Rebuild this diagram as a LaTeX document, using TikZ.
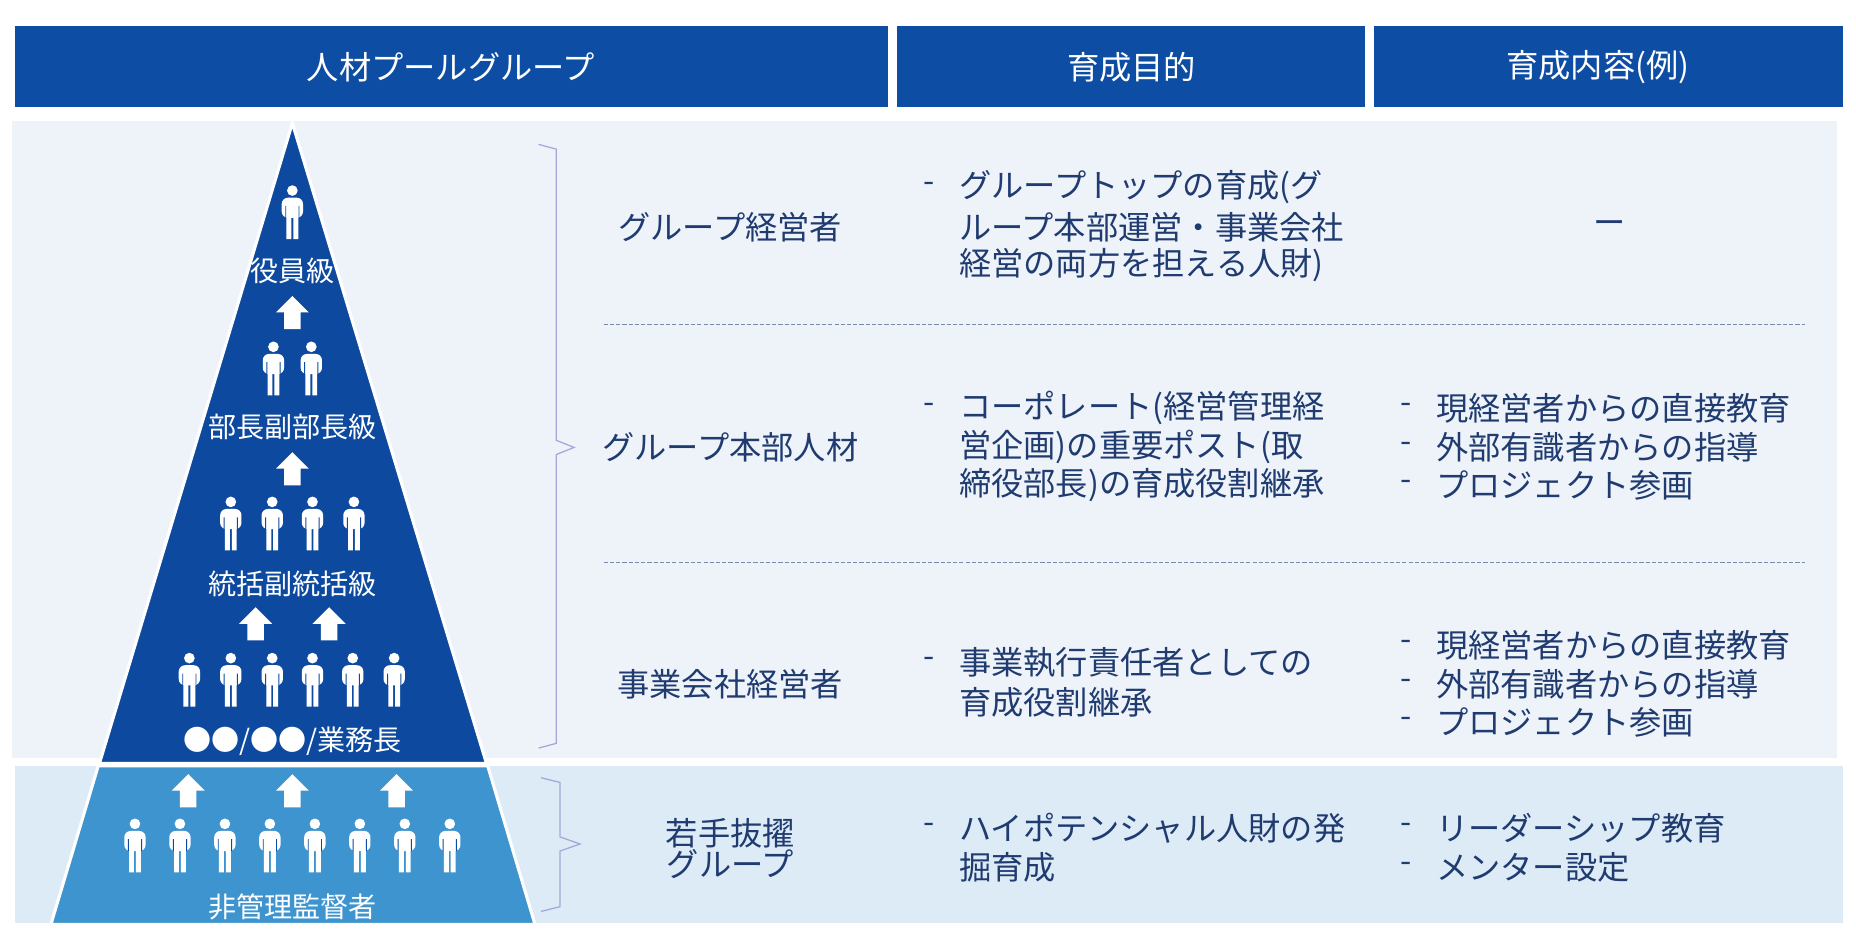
\documentclass[tikz,border=0pt]{standalone}
\usepackage{fontspec}
\setmainfont{Noto Sans CJK JP}
\begin{document}
\begin{tikzpicture}[x=0.02cm,y=-0.02cm,
  hdr/.style={fill=hdrblue,draw=none},
  htxt/.style={text=white,font=\fontsize{15.5pt}{18pt}\selectfont,inner sep=0},
  btxt/.style={text=txtblue,font=\fontsize{15.5pt}{18pt}\selectfont,inner sep=0},
  ptxt/.style={text=white,font=\fontsize{13.5pt}{16pt}\selectfont,inner sep=0},
  dline/.style={draw=txtblue!60,dashed,line width=0.4pt,dash pattern=on 2pt off 1pt},
  brace/.style={draw=gray!60!blue!50,line width=0.6pt},
  person/.pic={
    \fill[white] (0,-19) circle (4.5);
    \fill[white,rounded corners=3] (-9,-13) rectangle (9,4);
    \fill[txtpy] (-6,-6) rectangle (-5.2,4) (5.2,-6) rectangle (6,4);
    \fill[white] (-5,3) rectangle (-0.8,22) (0.8,3) rectangle (5,22);
  },
  uparrow/.pic={
    \fill[white] (-14,0) -- (0,-14) -- (14,0) -- (7,0) -- (7,14) -- (-7,14) -- (-7,0) -- cycle;
  }]
\definecolor{hdrblue}{HTML}{0E4DA4}
\definecolor{pyblue}{HTML}{0D4A9F}
\colorlet{txtpy}{pyblue}
\definecolor{lowblue}{HTML}{3E94CE}
\definecolor{panel}{HTML}{EEF3FA}
\definecolor{panellow}{HTML}{DDEBF6}
\definecolor{txtblue}{HTML}{1F3B70}
\useasboundingbox (0,0) rectangle (1568,794);
\fill[white] (0,0) rectangle (1568,794);
% headers
\fill[hdr] (13,22) rectangle (750,90);
\fill[hdr] (758,22) rectangle (1153,90);
\fill[hdr] (1161,22) rectangle (1557,90);
\node[htxt] (h1) at (381,57) {人材プールグループ};
\node[htxt] (h2) at (956,57) {育成目的};
\node[htxt] (h3) at (1350,57) {育成内容(例)};
% panels
\fill[panel] (10,102) rectangle (1552,640);
\fill[panellow] (13,647) rectangle (1557,780);
% pyramid
\filldraw[fill=pyblue,draw=white,line width=1.5pt] (247,104) -- (411,645) -- (84,645) -- cycle;
\filldraw[fill=lowblue,draw=white,line width=1.5pt] (83,647) -- (412,647) -- (452,781) -- (43,781) -- cycle;
% people
\pic at (247,180) {person};
\foreach \x in {231,263} \pic at (\x,312) {person};
\foreach \x in {195,230,264,299} \pic at (\x,443) {person};
\foreach \x in {160,195,230,264,298,333} \pic at (\x,575) {person};
\foreach \x in {114,152,190,228,266,304,342,380} \pic at (\x,715) {person};
% arrows
\pic at (247,264) {uparrow};
\pic at (247,396) {uparrow};
\pic at (216,527) {uparrow};
\pic at (278,527) {uparrow};
\pic at (159,668) {uparrow};
\pic at (247,668) {uparrow};
\pic at (335,668) {uparrow};
% pyramid labels
\node[ptxt] (l1) at (247,229) {役員級};
\node[ptxt] (l2) at (247,361) {部長副部長級};
\node[ptxt] (l3) at (247,493) {統括副統括級};
\node[ptxt] (l4) at (247,626) {●●/●●/業務長};
\node[ptxt] (l5) at (247,766) {非管理監督者};
% braces
\draw[brace] (455,122) -- (470,126) -- (470,372) -- (485,378) -- (470,384) -- (470,628) -- (455,632);
\draw[brace] (457,657) -- (473,661) -- (473,707) -- (490,713) -- (473,719) -- (473,766) -- (457,770);
% dashed separators
\draw[dline] (510,274) -- (1525,274);
\draw[dline] (510,475) -- (1525,475);
% col1
\node[btxt] (g1) at (617,192) {グループ経営者};
\node[btxt] (g2) at (617,378) {グループ本部人材};
\node[btxt] (g3) at (617,578) {事業会社経営者};
\node[btxt,align=center] (g4) at (617,717) {若手抜擢\\[-3pt]グループ};
% col2
\foreach \y in {158,345,560,700} \node[btxt] at (785,\y) {-};
\node[btxt,anchor=west] (p1a) at (810,158) {グループトップの育成(グ};
\node[btxt,anchor=west] (p1b) at (810,192) {ループ本部運営・事業会社};
\node[btxt,anchor=west] (p1c) at (810,224) {経営の両方を担える人財)};
\node[btxt,anchor=west] (p2a) at (810,345) {コーポレート(経営管理経};
\node[btxt,anchor=west] (p2b) at (810,378) {営企画)の重要ポスト(取};
\node[btxt,anchor=west] (p2c) at (810,410) {締役部長)の育成役割継承};
\node[btxt,anchor=west] (p3a) at (810,560) {事業執行責任者としての};
\node[btxt,anchor=west] (p3b) at (810,593) {育成役割継承};
\node[btxt,anchor=west] (p4a) at (810,700) {ハイポテンシャル人財の発};
\node[btxt,anchor=west] (p4b) at (810,733) {掘育成};
% col3
\node[btxt] (c0) at (1360,192) {ー};
\foreach \y in {345,378,410,545,578,610,700,733} \node[btxt] at (1188,\y) {-};
\node[btxt,anchor=west] (c1a) at (1213,345) {現経営者からの直接教育};
\node[btxt,anchor=west] (c1b) at (1213,378) {外部有識者からの指導};
\node[btxt,anchor=west] (c1c) at (1213,410) {プロジェクト参画};
\node[btxt,anchor=west] (c2a) at (1213,545) {現経営者からの直接教育};
\node[btxt,anchor=west] (c2b) at (1213,578) {外部有識者からの指導};
\node[btxt,anchor=west] (c2c) at (1213,610) {プロジェクト参画};
\node[btxt,anchor=west] (c3a) at (1213,700) {リーダーシップ教育};
\node[btxt,anchor=west] (c3b) at (1213,733) {メンター設定};
\end{tikzpicture}
\end{document}
